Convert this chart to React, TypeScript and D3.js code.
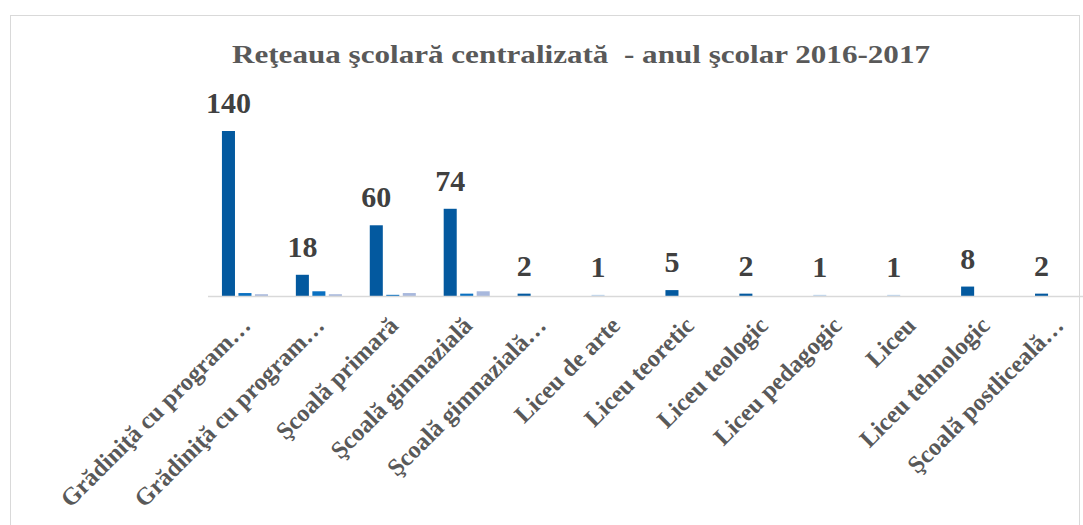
import * as d3 from "d3";

const categories = [
  "Grădiniţă cu program…",
  "Grădiniţă cu program…",
  "Şcoală primară",
  "Şcoală gimnazială",
  "Şcoală gimnazială…",
  "Liceu de arte",
  "Liceu teoretic",
  "Liceu teologic",
  "Liceu pedagogic",
  "Liceu",
  "Liceu tehnologic",
  "Şcoală postliceală…",
];

// first series carries the data labels
const unitati = [140, 18, 60, 74, 2, 1, 5, 2, 1, 1, 8, 2];
const seria2 = [2.5, 4, 1, 2, 0, 0, 0, 0, 0, 0, 0, 0];
const seria3 = [1.5, 1.5, 2.5, 4, 0, 0, 0, 0, 0, 0, 0, 0];

const series = [unitati, seria2, seria3];
const seriesKeys = ["s1", "s2", "s3"];
const seriesColors = ["#03599f", "#0a70c1", "#a8b8dd"];
const singleColor = "#bdd5ee"; // points with a single unit are drawn lighter

const title = "Reţeaua şcolară centralizată  - anul şcolar 2016-2017";

const W = 1083;
const H = 525;
const baseY = 296;
const font = "'Liberation Serif', 'DejaVu Serif', serif";

export default function App() {
  const x0 = d3
    .scaleBand<number>()
    .domain(d3.range(categories.length))
    .range([208, 1095])
    .padding(0);
  const x1 = d3
    .scaleBand<string>()
    .domain(seriesKeys)
    .range([0, x0.bandwidth()])
    .paddingInner(0.21)
    .paddingOuter(0.845);
  const y = d3.scaleLinear().domain([0, 140]).range([baseY, 131]);

  return (
    <svg
      width={W}
      height={H}
      style={{ position: "fixed", left: 0, top: 0, background: "#fff" }}
    >
      <rect x={0} y={0} width={W} height={H} fill="#fff" />
      <rect
        x={10.5}
        y={15.5}
        width={1069}
        height={540}
        fill="none"
        stroke="#d9d9d9"
        strokeWidth={1}
      />
      <text
        x={581}
        y={63}
        textAnchor="middle"
        fontFamily={font}
        fontWeight="bold"
        fontSize={25}
        fill="#595959"
        textLength={698}
        lengthAdjust="spacingAndGlyphs"
        style={{ whiteSpace: "pre" }}
      >
        {title}
      </text>

      {series.map((vals, si) => (
        <g key={si}>
          {vals.map((v, i) =>
            v > 0 ? (
              <rect
                key={i}
                x={(x0(i) ?? 0) + (x1(seriesKeys[si]) ?? 0)}
                y={y(v)}
                width={x1.bandwidth()}
                height={baseY - y(v)}
                fill={si === 0 && v === 1 ? singleColor : seriesColors[si]}
              />
            ) : null
          )}
        </g>
      ))}

      <line
        x1={208}
        x2={1095}
        y1={baseY + 0.5}
        y2={baseY + 0.5}
        stroke="#d9d9d9"
        strokeWidth={1.5}
      />

      {unitati.map((v, i) => (
        <text
          key={i}
          x={(x0(i) ?? 0) + (x1("s1") ?? 0) + x1.bandwidth() / 2}
          y={y(v) - 18}
          textAnchor="middle"
          fontFamily={font}
          fontWeight="bold"
          fontSize={30}
          fill="#404040"
        >
          {v}
        </text>
      ))}

      {categories.map((c, i) => {
        const cx = (x0(i) ?? 0) + x0.bandwidth() / 2 + 7;
        const cy = 327;
        return (
          <text
            key={i}
            transform={`translate(${cx},${cy}) rotate(-45)`}
            textAnchor="end"
            fontFamily={font}
            fontWeight="bold"
            fontSize={24.5}
            fill="#595959"
          >
            {c}
          </text>
        );
      })}
    </svg>
  );
}
